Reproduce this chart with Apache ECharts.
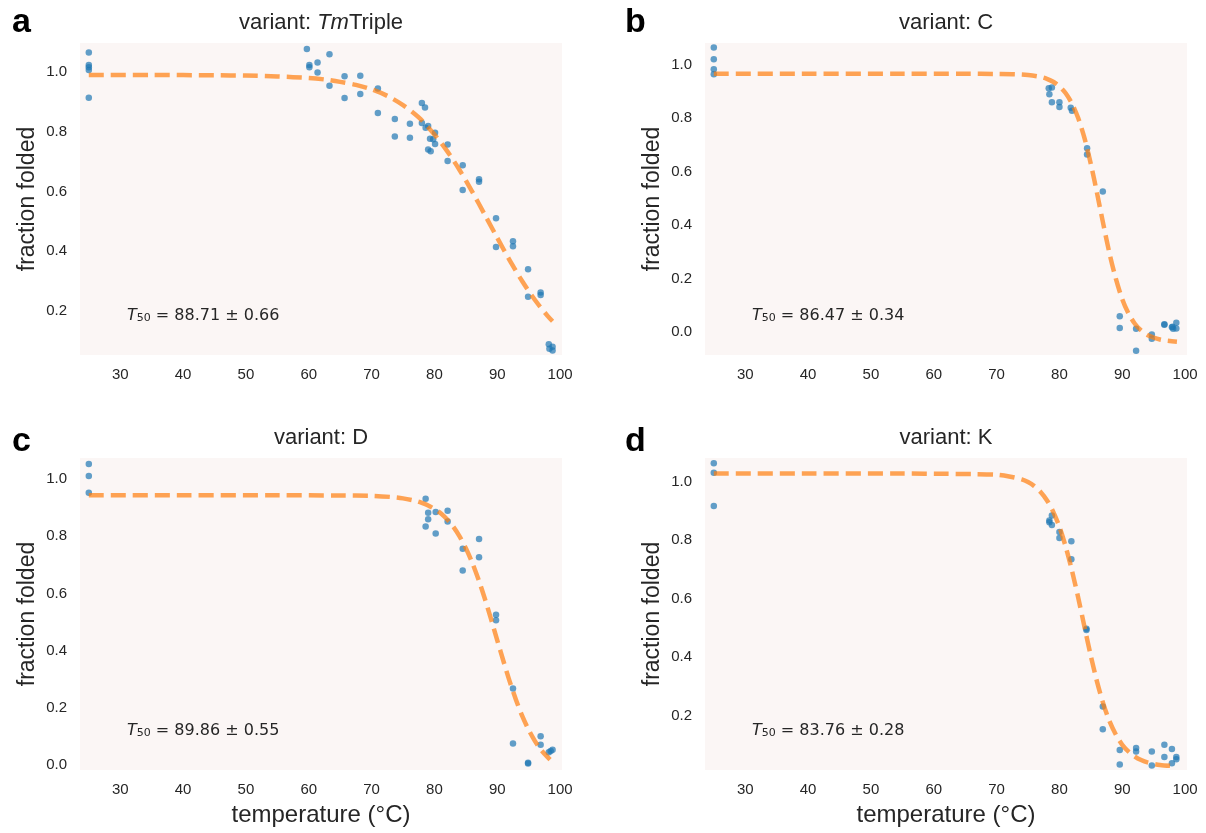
<!DOCTYPE html>
<html><head><meta charset="utf-8">
<script src="https://cdn.jsdelivr.net/npm/echarts@6/dist/echarts.min.js"></script>
<style>html,body{margin:0;padding:0;background:#fff}#c{width:1206px;height:833px}</style>
</head><body><div id="c"></div>
<script>
// ---------- data ----------
const variantNames = ['TmTriple', 'C', 'D', 'K'];
const panelLetters = ['a', 'b', 'c', 'd'];
const t50Values = ['88.71 ± 0.66', '86.47 ± 0.34', '89.86 ± 0.55', '83.76 ± 0.28'];
const xTicks = [30, 40, 50, 60, 70, 80, 90, 100];
const yTicksA = [0.2, 0.4, 0.6, 0.8, 1.0];
const yTicksB = [0.0, 0.2, 0.4, 0.6, 0.8, 1.0];
const yTicksC = [0.0, 0.2, 0.4, 0.6, 0.8, 1.0];
const yTicksD = [0.2, 0.4, 0.6, 0.8, 1.0];

// panel a: TmTriple
const tempA = [25,25,25,25,25,59.7,60.1,60.1,61.4,61.4,63.3,63.3,65.7,65.7,68.2,68.2,71.0,71.0,73.7,73.7,76.1,76.1,78.0,78.5,78.0,79.0,78.6,79.3,80.1,79.8,80.1,79.0,79.4,82.1,82.1,84.5,84.5,87.1,87.1,89.8,89.8,92.5,92.5,94.9,94.9,96.9,96.9,98.2,98.8,98.3,98.8];
const fracA = [1.065,1.023,1.016,1.007,0.914,1.077,1.023,1.016,1.032,0.998,1.059,0.954,0.986,0.913,0.987,0.926,0.945,0.863,0.843,0.784,0.827,0.780,0.896,0.881,0.829,0.819,0.813,0.777,0.797,0.775,0.759,0.741,0.735,0.757,0.702,0.688,0.605,0.641,0.633,0.511,0.414,0.434,0.417,0.340,0.248,0.262,0.254,0.089,0.081,0.074,0.068];
const fitTempA = [25,35,45,50,55,60,62.5,65,67.5,70,72.5,75,77.5,80,82,84,86,88,90,92,94,96,98,98.8];
const fitFracA = [0.990,0.990,0.989,0.988,0.985,0.980,0.975,0.967,0.957,0.942,0.920,0.889,0.848,0.791,0.736,0.672,0.600,0.523,0.445,0.369,0.299,0.237,0.184,0.166];

// panel b: C
const tempB = [25,25,25,25,78.3,78.8,78.4,78.8,80.0,80.0,81.8,82.0,84.4,84.4,86.9,89.6,89.6,92.2,92.2,94.7,94.7,96.7,96.7,97.9,98.1,98.6,98.6,98.0];
const fracB = [1.065,1.021,0.984,0.965,0.913,0.915,0.890,0.860,0.860,0.842,0.840,0.828,0.688,0.665,0.526,0.059,0.015,0.012,-0.070,-0.009,-0.025,0.029,0.027,0.018,0.012,0.035,0.013,0.020];
const fitTempB = [25,40,55,65,70,73,75,77,78,79,80,81,82,83,84,85,86,87,88,89,90,91,92,93,94,95,96,97,98.7];
const fitFracB = [0.967,0.967,0.967,0.967,0.966,0.965,0.962,0.955,0.948,0.937,0.920,0.894,0.855,0.800,0.725,0.629,0.518,0.402,0.291,0.198,0.123,0.069,0.031,0.006,-0.011,-0.021,-0.028,-0.032,-0.036];

// panel c: D
const tempC = [25,25,25,78.6,79.0,79.0,78.6,80.2,80.2,82.1,82.1,87.1,87.1,84.5,84.5,89.8,89.8,92.5,92.5,94.9,94.9,96.9,96.9,98.2,98.5,98.8];
const fracC = [1.052,1.010,0.952,0.931,0.882,0.859,0.834,0.884,0.809,0.889,0.851,0.790,0.726,0.756,0.680,0.525,0.506,0.268,0.076,0.006,0.008,0.101,0.071,0.045,0.049,0.054];
const fitTempC = [25,40,55,65,70,73,75,77,78,79,80,81,82,83,84,85,86,87,88,89,90,91,92,93,94,95,96,97,98.4];
const fitFracC = [0.943,0.943,0.943,0.942,0.941,0.937,0.932,0.923,0.916,0.907,0.895,0.880,0.859,0.833,0.799,0.758,0.708,0.649,0.583,0.511,0.436,0.362,0.291,0.227,0.170,0.123,0.084,0.052,0.019];

// panel d: K
const tempD = [25,25,25,78.4,78.4,78.8,78.8,80.0,80.0,81.9,81.9,84.3,84.3,86.9,86.9,89.6,89.6,92.2,92.2,94.7,94.7,96.7,96.7,97.9,97.9,98.6,98.6];
const fracD = [1.062,1.030,0.916,0.867,0.861,0.884,0.851,0.827,0.807,0.796,0.734,0.497,0.493,0.232,0.154,0.083,0.034,0.090,0.078,0.078,0.030,0.101,0.059,0.087,0.038,0.059,0.052];
const fitTempD = [25,40,55,62,66,70,72,74,75,76,77,78,79,80,81,82,83,84,85,86,87,88,89,90,91,92,93,94,96,98.6];
const fitFracD = [1.027,1.027,1.027,1.026,1.025,1.023,1.017,1.007,0.998,0.984,0.964,0.936,0.897,0.845,0.777,0.695,0.602,0.502,0.404,0.315,0.240,0.180,0.135,0.101,0.078,0.061,0.049,0.041,0.032,0.028];

// ---------- layout / style ----------
const grids = [
  {left: 80,  top: 43,  width: 482, height: 312},
  {left: 705, top: 43,  width: 482, height: 312},
  {left: 80,  top: 458, width: 482, height: 312},
  {left: 705, top: 458, width: 482, height: 312}
];
const xRange = [23.6, 100.3];
const yRanges = [[0.053, 1.097], [-0.086, 1.082], [-0.017, 1.073], [0.015, 1.080]];
const yTickSets = [yTicksA, yTicksB, yTicksC, yTicksD];
const scatterSets = [[tempA, fracA], [tempB, fracB], [tempC, fracC], [tempD, fracD]];
const fitSets = [[fitTempA, fitFracA], [fitTempB, fitFracB], [fitTempC, fitFracC], [fitTempD, fitFracD]];
const letterY = [23, 23, 442, 442];

const TXT = '#262626';
const FONT = '"Liberation Sans", Arial, sans-serif';
const zip = (a, b) => a.map((v, i) => [v, b[i]]);

const chart = echarts.init(document.getElementById('c'), null, {renderer: 'canvas'});

const option = {
  backgroundColor: '#ffffff',
  animation: false,
  grid: grids.map(g => Object.assign({show: true, backgroundColor: '#fbf6f5', borderWidth: 0}, g)),
  xAxis: grids.map((g, i) => ({
    type: 'value', gridIndex: i, min: xRange[0], max: xRange[1],
    axisLine: {show: false}, axisTick: {show: false}, splitLine: {show: false},
    axisLabel: {customValues: xTicks, fontSize: 15, color: TXT, fontFamily: FONT, margin: 12,
                formatter: v => String(Math.round(v))},
    name: i >= 2 ? 'temperature (°C)' : '', nameLocation: 'middle', nameGap: 33,
    nameTextStyle: {fontSize: 24, color: TXT, fontFamily: FONT}
  })),
  yAxis: grids.map((g, i) => ({
    type: 'value', gridIndex: i, min: yRanges[i][0], max: yRanges[i][1],
    axisLine: {show: false}, axisTick: {show: false}, splitLine: {show: false},
    axisLabel: {customValues: yTickSets[i], fontSize: 15, color: TXT, fontFamily: FONT, margin: 13,
                formatter: v => v.toFixed(1)},
    name: 'fraction folded', nameLocation: 'middle', nameGap: 41,
    nameTextStyle: {fontSize: 23, color: TXT, fontFamily: FONT}
  })),
  series: [].concat(
    scatterSets.map((s, i) => ({
      type: 'scatter', xAxisIndex: i, yAxisIndex: i, data: zip(s[0], s[1]),
      symbolSize: 6.5, itemStyle: {color: '#1f77b4', opacity: 0.7}, z: 2
    })),
    fitSets.map((s, i) => ({
      type: 'line', xAxisIndex: i, yAxisIndex: i, data: zip(s[0], s[1]),
      showSymbol: false, smooth: 0.3,
      lineStyle: {color: '#ff7f0e', opacity: 0.7, width: 4.5, type: [15, 7], join: 'round'}, z: 3
    }))
  ),
  graphic: [].concat(
    grids.map((g, i) => ({
      type: 'text', x: g.left + g.width / 2, y: g.top - 20, z: 10,
      style: {
        text: i === 0 ? '{n|variant: }{i|Tm}{n|Triple}' : '{n|variant: ' + variantNames[i] + '}',
        align: 'center', verticalAlign: 'middle',
        rich: {
          n: {fontSize: 22, fontFamily: FONT, fill: TXT, color: TXT},
          i: {fontSize: 22, fontFamily: FONT, fontStyle: 'italic', fill: TXT, color: TXT}
        }
      }
    })),
    grids.map((g, i) => ({
      type: 'text', x: (i % 2 === 0 ? 12 : 625), y: letterY[i], z: 10,
      style: {text: panelLetters[i], fontSize: 34, fontWeight: 'bold', fontFamily: FONT,
              fill: '#000', align: 'left', verticalAlign: 'middle'}
    })),
    grids.map((g, i) => ({
      type: 'text', x: g.left + 47, y: g.top + 271, z: 10,
      style: {
        text: '{it|T}{sub|50}{n| = ' + t50Values[i] + '}',
        align: 'left', verticalAlign: 'middle',
        rich: {
          it: {fontSize: 16, fontFamily: '"DejaVu Sans"', fontStyle: 'italic', fill: TXT, color: TXT, lineHeight: 20, verticalAlign: 'bottom'},
          sub: {fontSize: 11, fontFamily: '"DejaVu Sans"', fill: TXT, color: TXT, lineHeight: 6, verticalAlign: 'bottom'},
          n: {fontSize: 16, fontFamily: '"DejaVu Sans"', fill: TXT, color: TXT, lineHeight: 20, verticalAlign: 'bottom'}
        }
      }
    }))
  )
};
chart.setOption(option);
</script>
</body></html>
